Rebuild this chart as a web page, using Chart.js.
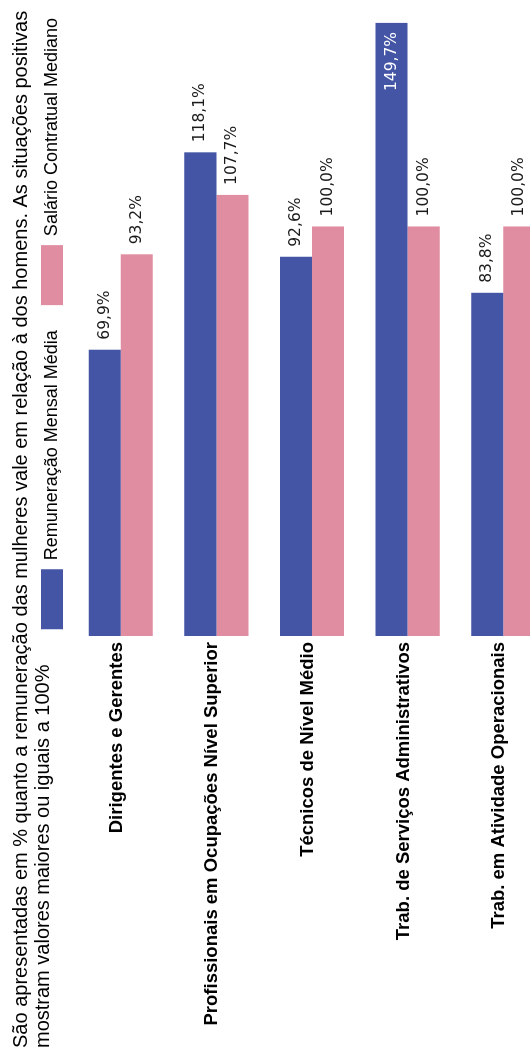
<!DOCTYPE html>
<html>
<head>
<meta charset="utf-8">
<script src="https://cdn.jsdelivr.net/npm/chart.js@4/dist/chart.umd.min.js"></script>
<style>
html, body { margin:0; padding:0; background:#fff; overflow:hidden; width:530px; height:1051px; }
#wrap { position:absolute; left:0; top:0; width:1058px; height:551px; transform-origin:0 0; transform:translate(0,1051px) rotate(-90deg); }
</style>
</head>
<body>
<div id="wrap"><canvas id="c" width="1058" height="551"></canvas></div>
<script>
const categories = [
  'Dirigentes e Gerentes',
  'Profissionais em Ocupações Nível Superior',
  'Técnicos de Nível Médio',
  'Trab. de Serviços Administrativos',
  'Trab. em Atividade Operacionais'
];
const seriesNames = ['Remuneração Mensal Média', 'Salário Contratual Mediano'];
const remuneracaoMensalMedia = [69.9, 118.1, 92.6, 149.7, 83.8];
const salarioContratualMediano = [93.2, 107.7, 100.0, 100.0, 100.0];
const subtitleLines = [
  'São apresentadas em % quanto a remuneração das mulheres vale em relação à dos homens. As situações positivas',
  'mostram valores maiores ou iguais a 100%'
];

const fmt = v => v.toFixed(1).replace('.', ',') + '%';

const valueLabels = {
  id: 'valueLabels',
  afterDatasetsDraw(chart) {
    const ctx = chart.ctx;
    const area = chart.chartArea;
    ctx.save();
    ctx.font = '15.5px "DejaVu Sans", Verdana, sans-serif';
    ctx.textBaseline = 'middle';
    chart.data.datasets.forEach((ds, di) => {
      chart.getDatasetMeta(di).data.forEach((bar, i) => {
        const txt = fmt(ds.data[i]);
        const w = ctx.measureText(txt).width;
        if (bar.x + 10 + w > area.right) {
          ctx.fillStyle = '#ffffff';
          ctx.textAlign = 'right';
          ctx.fillText(txt, bar.x - 9, bar.y);
        } else {
          ctx.fillStyle = '#1a1a1a';
          ctx.textAlign = 'left';
          ctx.fillText(txt, bar.x + 10, bar.y);
        }
      });
    });
    ctx.restore();
  }
};

new Chart(document.getElementById('c'), {
  type: 'bar',
  data: {
    labels: categories,
    datasets: [
      { label: seriesNames[0], data: remuneracaoMensalMedia, backgroundColor: '#4455A6', borderWidth: 0, barPercentage: 1.0, categoryPercentage: 0.67 },
      { label: seriesNames[1], data: salarioContratualMediano, backgroundColor: '#E18DA1', borderWidth: 0, barPercentage: 1.0, categoryPercentage: 0.67 }
    ]
  },
  options: {
    indexAxis: 'y',
    responsive: false,
    animation: false,
    layout: { padding: { left: 3, right: 0, top: 0, bottom: 0 } },
    plugins: {
      title: { display: false },
      subtitle: {
        display: true,
        text: subtitleLines,
        align: 'start',
        color: '#000',
        font: { family: '"Liberation Sans", Arial, sans-serif', size: 20, weight: 'normal', lineHeight: 1.1 },
        padding: { top: 10, bottom: -38 }
      },
      legend: {
        display: true,
        position: 'top',
        align: 'end',
        labels: {
          boxWidth: 60,
          boxHeight: 22,
          padding: 25,
          color: '#000',
          font: { family: '"Liberation Sans", Arial, sans-serif', size: 18 }
        }
      },
      tooltip: { enabled: false }
    },
    scales: {
      x: { display: false, min: 0, max: 157 },
      y: {
        grid: { display: false, drawTicks: false },
        border: { display: false },
        ticks: {
          color: '#000',
          padding: 6,
          labelOffset: -4,
          autoSkip: false,
          font: { family: '"Liberation Sans", Arial, sans-serif', size: 18.5, weight: 'bold' }
        },
        afterFit(scale) { scale.width = 412; scale.paddingTop = 0; scale.paddingBottom = 0; }
      }
    }
  },
  plugins: [valueLabels]
});
</script>
</body>
</html>
